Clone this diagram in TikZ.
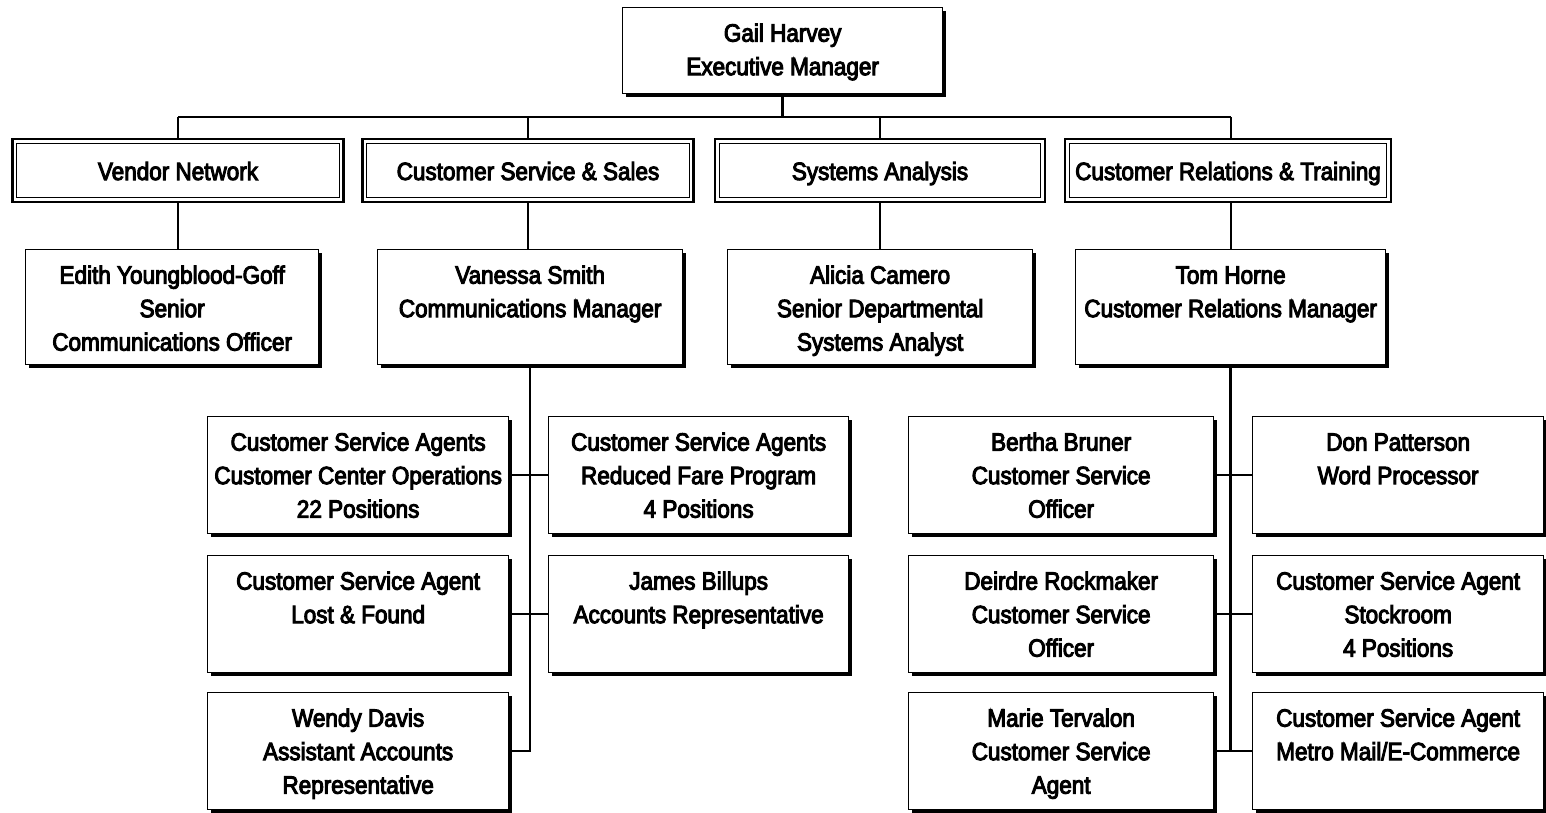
\documentclass[tikz,border=0pt]{standalone}
\usepackage{fontspec}
\setmainfont{Liberation Sans}[FakeStretch=0.9,FakeBold=4]
\usetikzlibrary{shadows}
\newcommand{\bt}[3]{\parbox[c][#2pt][t]{#1pt}{\centering\rule{0pt}{34pt}#3}}
\begin{document}
\begin{tikzpicture}[x=1pt,y=-1pt,
  every node/.style={font=\fontsize{25}{33.5}\selectfont},
  pbox/.style={draw, line width=1.3pt, fill=white, inner sep=0pt, anchor=north west,
    general shadow={fill=black, shadow xshift=3.3pt, shadow yshift=-3.3pt}},
  dbox/.style={draw, line width=2.6pt, fill=white, inner sep=0pt, minimum height=63pt, anchor=center,
    text height=21pt, text depth=2pt,
    path picture={\draw[line width=0.9pt] ([shift={(4.2pt,4.2pt)}]path picture bounding box.south west) rectangle ([shift={(-4.2pt,-4.2pt)}]path picture bounding box.north east);}},
  conn/.style={draw, line width=2.4pt}]
\useasboundingbox (0,0) rectangle (1546,812);
\fill[white] (0,0) rectangle (1546,812);

% top
\node[pbox] (gail) at (622,7) {\bt{320}{86}{Gail Harvey\\Executive Manager}};

% departments
\node[dbox, minimum width=331pt] (dv) at (178,170.5) {Vendor Network};
\node[dbox, minimum width=331pt] (dc) at (528,170.5) {Customer Service \& Sales};
\node[dbox, minimum width=330pt] (ds) at (880,170.5) {Systems Analysis};
\node[dbox, minimum width=326pt] (dr) at (1228,170.5) {Customer Relations \& Training};

% managers
\node[pbox] (edith) at (25,249) {\bt{293}{115}{Edith Youngblood-Goff\\Senior\\Communications Officer}};
\node[pbox] (vanessa) at (377,249) {\bt{305}{115}{Vanessa Smith\\Communications Manager}};
\node[pbox] (alicia) at (727,249) {\bt{305}{115}{Alicia Camero\\Senior Departmental\\Systems Analyst}};
\node[pbox] (tom) at (1075,249) {\bt{310}{115}{Tom Horne\\Customer Relations Manager}};

% customer service & sales staff
\node[pbox] (cs1) at (207,416) {\bt{301}{117}{Customer Service Agents\\Customer Center Operations\\22 Positions}};
\node[pbox] (cs2) at (548,416) {\bt{300}{117}{Customer Service Agents\\Reduced Fare Program\\4 Positions}};
\node[pbox] (cs3) at (207,555) {\bt{301}{117}{Customer Service Agent\\Lost \& Found}};
\node[pbox] (cs4) at (548,555) {\bt{300}{117}{James Billups\\Accounts Representative}};
\node[pbox] (cs5) at (207,692) {\bt{301}{117}{Wendy Davis\\Assistant Accounts\\Representative}};

% customer relations staff
\node[pbox] (tm1) at (908,416) {\bt{305}{117}{Bertha Bruner\\Customer Service\\Officer}};
\node[pbox] (tm2) at (1252,416) {\bt{291}{117}{Don Patterson\\Word Processor}};
\node[pbox] (tm3) at (908,555) {\bt{305}{117}{Deirdre Rockmaker\\Customer Service\\Officer}};
\node[pbox] (tm4) at (1252,555) {\bt{291}{117}{Customer Service Agent\\Stockroom\\4 Positions}};
\node[pbox] (tm5) at (908,692) {\bt{305}{117}{Marie Tervalon\\Customer Service\\Agent}};
\node[pbox] (tm6) at (1252,692) {\bt{291}{117}{Customer Service Agent\\Metro Mail/E-Commerce}};

% bus coordinates
\coordinate (busL) at (178,117);
\coordinate (busC) at (528,117);
\coordinate (busS) at (880,117);
\coordinate (busR) at (1231,117);

% connectors
\draw[conn] (gail.south) -- (gail.south |- busL);
\draw[conn] (busL) -- (busR);
\draw[conn] (busL) -- (busL |- dv.north);
\draw[conn] (busC) -- (busC |- dc.north);
\draw[conn] (busS) -- (busS |- ds.north);
\draw[conn] (busR) -- (busR |- dr.north);

\draw[conn] (dv.south) -- (dv.south |- edith.north);
\draw[conn] (dc.south) -- (dc.south |- vanessa.north);
\draw[conn] (ds.south) -- (ds.south |- alicia.north);
\draw[conn] (busR |- dr.south) -- (busR |- tom.north);

\draw[conn] (vanessa.south) -- (vanessa.south |- cs5.east) -- (cs5.east);
\draw[conn] (cs1.east) -- (cs2.west);
\draw[conn] (cs3.east) -- (cs4.west);

\draw[conn] (tom.south) -- (tom.south |- tm5.east) -- (tm5.east);
\draw[conn] (tm1.east) -- (tm2.west);
\draw[conn] (tm3.east) -- (tm4.west);
\draw[conn] (tm5.east) -- (tm6.west);
\end{tikzpicture}
\end{document}
